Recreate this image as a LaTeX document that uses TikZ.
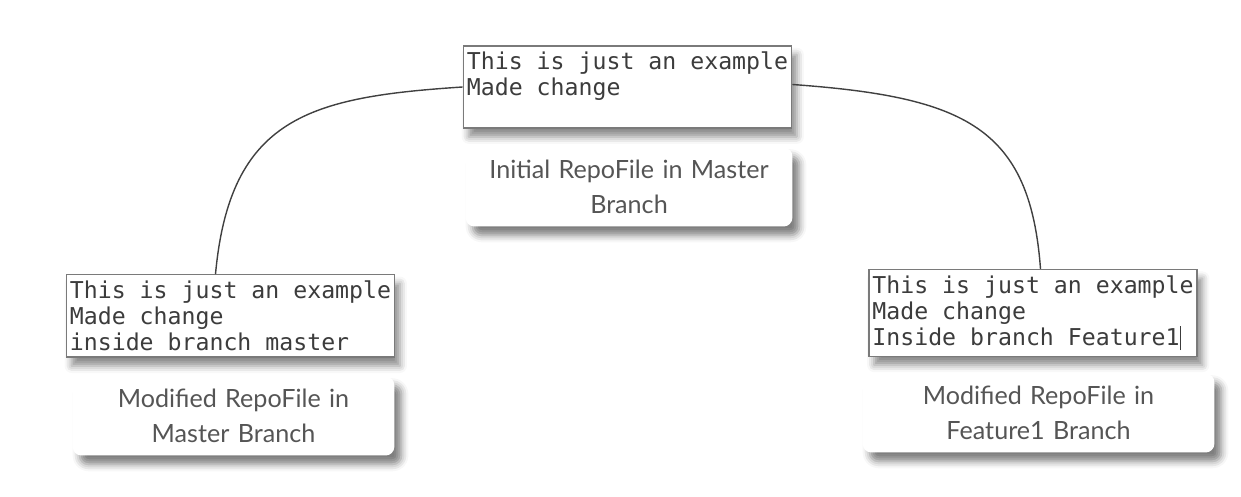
\documentclass[tikz,border=0pt]{standalone}
\usepackage{fontspec}
\setmainfont{Lato}
\setmonofont{DejaVu Sans Mono}
\usetikzlibrary{shadows.blur}
\definecolor{codegray}{HTML}{3C3C3C}
\definecolor{capgray}{HTML}{555555}
\definecolor{framegray}{HTML}{7A7A7A}
\begin{document}
\begin{tikzpicture}[
  filebox/.style={draw=framegray, line width=0.8pt, fill=white, align=left,
    inner xsep=2pt, inner ysep=3.5pt, font=\fontsize{13.2}{14.8}\selectfont\ttfamily, text=codegray,
    blur shadow={shadow xshift=3pt, shadow yshift=-5pt, shadow blur radius=4pt, shadow opacity=45}},
  capbox/.style={fill=white, rounded corners=5pt, align=center, minimum height=1.58cm,
    font=\fontsize{14.3}{20}\selectfont, text=capgray,
    blur shadow={shadow xshift=4pt, shadow yshift=-5pt, shadow blur radius=4pt, shadow opacity=50}},
  link/.style={draw=black!75, line width=0.8pt}
]
% Fix the canvas size
\useasboundingbox (0,0) rectangle (24.82,9.94);

% Initial file and its caption
\node[filebox] (tbox) at (12.55, 8.2) {This is just an example\\Made change\\\mbox{}};
\node[capbox, text width=6.3cm] (tcap) at (12.58, 6.2) {Initial RepoFile in Master\\Branch};

% Master branch file
\node[filebox] (lbox) at (4.61, 3.62) {This is just an example\\Made change\\inside branch master};
\node[capbox, text width=6.2cm] (lcap) at (4.67, 1.62) {Modified RepoFile in\\Master Branch};

% Feature1 branch file
\node[filebox] (rbox) at (20.66, 3.68) {This is just an example\\Made change\\Inside branch Feature1\rule[-0.2em]{0.7pt}{1.05em}};
\node[capbox, text width=6.8cm] (rcap) at (20.77, 1.68) {Modified RepoFile in\\Feature1 Branch};

% Connectors
\draw[link] (tbox.west) .. controls (6.2, 8.0) and (4.6, 7.6) .. ([xshift=-0.3cm]lbox.north);
\draw[link] ([yshift=0.05cm]tbox.east) .. controls (19.3, 8.0) and (20.6, 7.4) .. ([xshift=0.15cm]rbox.north);
\end{tikzpicture}
\end{document}
